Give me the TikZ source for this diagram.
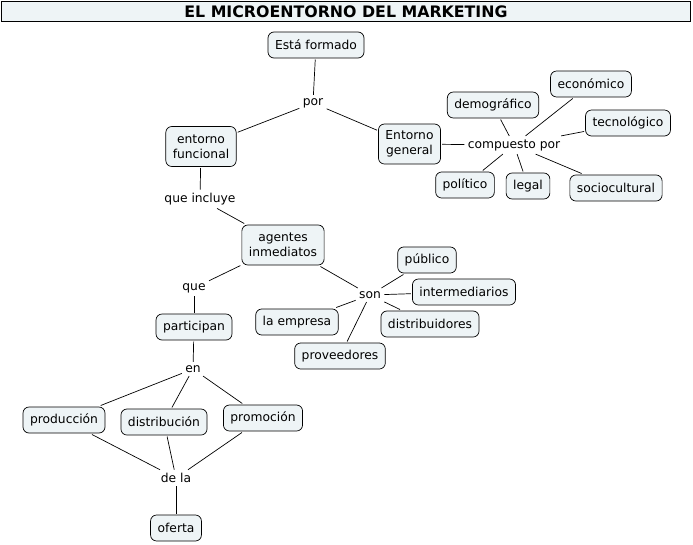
\documentclass[tikz,border=0pt]{standalone}
\usepackage{fontspec}
\setmainfont{DejaVu Sans}
\usepackage{tikz}
\usetikzlibrary{positioning}
\definecolor{boxfill}{HTML}{EEF4F6}

\begin{document}
\begin{tikzpicture}
	[x=1pt,y=-1pt,
	 every node/.style={font=\fontsize{12.3}{14}\selectfont},
	 concept/.style={draw,rounded corners=6pt,fill=boxfill,align=center,inner xsep=7pt,inner ysep=4pt,minimum height=26pt,outer sep=1.5pt},
	 twoline/.style={concept,minimum height=40pt},
	 linker/.style={inner sep=2pt,outer sep=1.5pt},
	 every path/.style={line width=0.7pt}]
	\useasboundingbox (0,0) rectangle (693,544);
	% titulo
	\node[draw,line width=1.4pt,fill=boxfill,minimum width=689pt,minimum height=20pt,inner sep=0pt,font=\fontsize{15.8}{17}\selectfont\bfseries] (titulo) at (346,11.5) {EL MICROENTORNO DEL MARKETING};
	% parte superior
	\node[concept] (formado) at (316,45) {Está formado};
	\node[linker] (por) at (313,103) {por};
	\node[twoline] (funcional) at (201,146.5) {entorno\\[1pt]funcional};
	\node[twoline] (general) at (409.5,144) {Entorno\\[1pt]general};
	\node[linker] (compuesto) at (514,145) {compuesto por};
	\node[concept] (demo) at (493,105) {demográfico};
	\node[concept] (eco) at (591,84) {económico};
	\node[concept] (tec) at (628,123) {tecnológico};
	\node[concept] (pol) at (465,185) {político};
	\node[concept] (legal) at (528,186) {legal};
	\node[concept] (socio) at (616,188) {sociocultural};
	% agentes
	\node[linker] (incluye) at (200,199) {que incluye};
	\node[twoline] (agentes) at (283,245) {agentes\\[1pt]inmediatos};
	\node[linker] (son) at (370,295) {son};
	\node[concept] (publico) at (427,260) {público};
	\node[concept] (inter) at (464,292) {intermediarios};
	\node[concept] (distri) at (430,324) {distribuidores};
	\node[concept] (empresa) at (297,322) {la empresa};
	\node[concept] (prove) at (340,356) {proveedores};
	% parte inferior
	\node[linker] (que) at (194,288) {que};
	\node[concept] (particip) at (194,327) {participan};
	\node[linker] (en) at (193,369) {en};
	\node[concept] (produc) at (64,420) {producción};
	\node[concept] (distrib) at (164,422) {distribución};
	\node[concept] (promo) at (263,418) {promoción};
	\node[linker] (dela) at (176,478) {de la};
	\node[concept] (oferta) at (176,528) {oferta};
	% conexiones
	\draw (formado) -- (por);
	\draw (por) -- (funcional);
	\draw (por) -- (general);
	\draw (general) -- (compuesto);
	\foreach \n in {demo,eco,tec,pol,legal,socio}
		\draw (compuesto) -- (\n);
	\draw (funcional) -- (incluye);
	\draw (incluye) -- (agentes);
	\draw (agentes) -- (son);
	\foreach \n in {publico,inter,distri,empresa,prove}
		\draw (son) -- (\n);
	\draw (agentes) -- (que);
	\draw (que) -- (particip);
	\draw (particip) -- (en);
	\foreach \n in {produc,distrib,promo}
		{\draw (en) -- (\n);
		 \draw (\n) -- (dela);}
	\draw (dela) -- (oferta);
\end{tikzpicture}
\end{document}
